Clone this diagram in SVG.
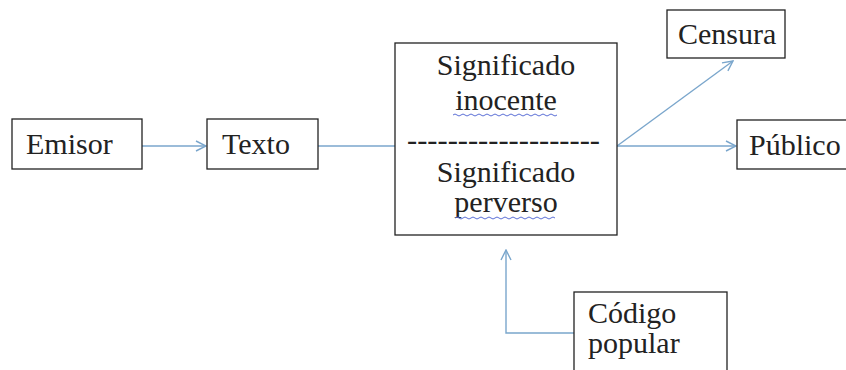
<svg xmlns="http://www.w3.org/2000/svg" width="846" height="370" viewBox="0 0 846 370">
<defs>
<style>
.box{fill:#fff;stroke:#222;stroke-width:1.3}
.t{font-family:"Liberation Serif","Times New Roman",serif;font-size:30px;fill:#222}
.c{fill:none;stroke:#7aa6cc;stroke-width:1.4}
.sq{fill:none;stroke:#5b6fd6;stroke-width:1}
</style>
<marker id="ah" viewBox="0 0 12 12" refX="11" refY="6" markerWidth="12" markerHeight="12" markerUnits="userSpaceOnUse" orient="auto">
<path d="M1,1 L11,6 L1,11" fill="none" stroke="#7aa6cc" stroke-width="1.4"/>
</marker>
</defs>
<rect width="846" height="370" fill="#fff"/>
<g id="connectors">
<line class="c" x1="142" y1="146" x2="206" y2="146" marker-end="url(#ah)"/>
<line class="c" x1="318" y1="146" x2="395" y2="146"/>
<line class="c" x1="617" y1="146" x2="733" y2="61" marker-end="url(#ah)"/>
<line class="c" x1="617" y1="146" x2="736" y2="146" marker-end="url(#ah)"/>
<polyline class="c" points="574,333 506,333 506,250" marker-end="url(#ah)"/>
</g>
<g id="emisor">
<rect class="box" x="12" y="119" width="130" height="50"/>
<text class="t" x="26" y="154">Emisor</text>
</g>
<g id="texto">
<rect class="box" x="207" y="119" width="111" height="50"/>
<text class="t" x="222" y="154">Texto</text>
</g>
<g id="significado">
<rect class="box" x="395" y="43" width="222" height="192"/>
<text class="t" x="506" y="75" text-anchor="middle">Significado</text>
<text class="t" x="506" y="110" text-anchor="middle">inocente</text>
<path class="sq" d="M453,115 q2,-2 4,0 t4,0 t4,0 t4,0 t4,0 t4,0 t4,0 t4,0 t4,0 t4,0 t4,0 t4,0 t4,0 t4,0 t4,0 t4,0 t4,0 t4,0 t4,0 t4,0 t4,0 t4,0 t4,0 t4,0 t4,0 t4,0"/>
<text class="t" x="407" y="150" textLength="193" lengthAdjust="spacingAndGlyphs">-------------------</text>
<text class="t" x="506" y="182" text-anchor="middle">Significado</text>
<text class="t" x="506" y="212" text-anchor="middle">perverso</text>
<path class="sq" d="M455,218 q2,-2 4,0 t4,0 t4,0 t4,0 t4,0 t4,0 t4,0 t4,0 t4,0 t4,0 t4,0 t4,0 t4,0 t4,0 t4,0 t4,0 t4,0 t4,0 t4,0 t4,0 t4,0 t4,0 t4,0 t4,0 t4,0"/>
</g>
<g id="censura">
<rect class="box" x="667" y="10" width="118" height="48"/>
<text class="t" x="678" y="44">Censura</text>
</g>
<g id="publico">
<rect class="box" x="737" y="120" width="120" height="49"/>
<text class="t" x="749" y="155">Público</text>
</g>
<g id="codigo">
<rect class="box" x="574" y="292" width="153" height="90"/>
<text class="t" x="588" y="323">Código</text>
<text class="t" x="588" y="353">popular</text>
</g>
</svg>
